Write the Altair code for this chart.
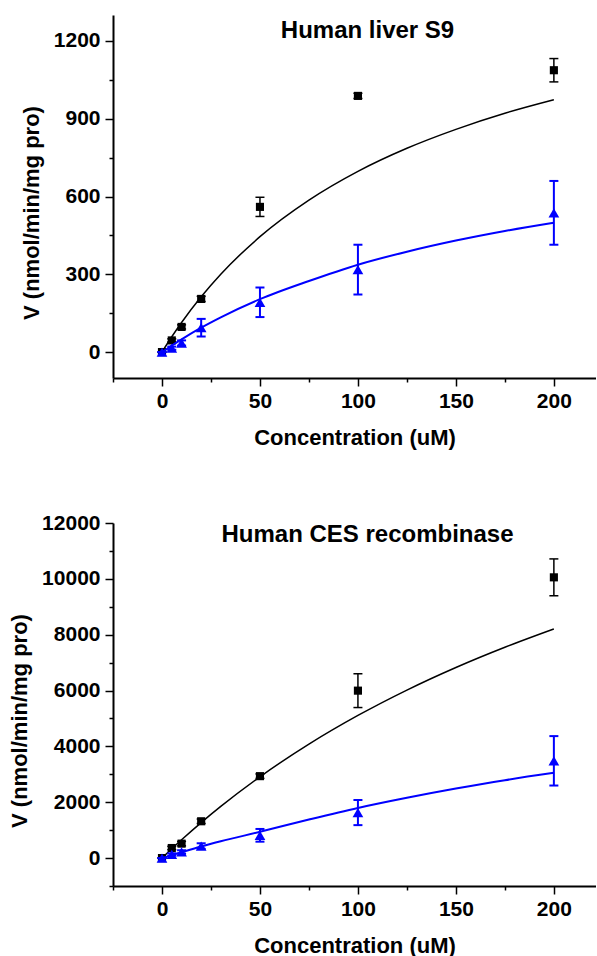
import altair as alt
import pandas as pd

# ---- data ----
conc = [0, 5, 10, 20, 50, 100, 200]

s9_black_v = [0, 45, 97, 205, 560, 988, 1087]
s9_black_err = [0, 6, 8, 10, 37, 10, 45]
s9_blue_v = [0, 15, 35, 94, 192, 318, 537]
s9_blue_err = [0, 6, 10, 34, 57, 96, 123]

ces_black_v = [0, 360, 517, 1318, 2934, 5996, 10054]
ces_black_err = [0, 60, 80, 80, 80, 605, 660]
ces_blue_v = [0, 130, 220, 430, 815, 1630, 3483]
ces_blue_err = [0, 40, 60, 100, 228, 450, 885]

fit_x = [0, 5, 10, 20, 30, 50, 75, 100, 125, 150, 175, 200]
s9_black_fit = [0, 59, 114, 213, 300, 445, 586, 697, 786, 859, 921, 973]
s9_blue_fit = [0, 25, 49, 94, 134, 204, 274, 337, 387, 430, 467, 499]
ces_black_fit = [0, 333, 655, 1271, 1850, 2911, 4081, 5108, 6017, 6826, 7551, 8206]
ces_blue_fit = [0, 105, 210, 415, 600, 940, 1380, 1796, 2160, 2490, 2790, 3052]

x_major = [0, 50, 100, 150, 200]
x_minor = [-25, 25, 75, 125, 175]
s9_y_major = [0, 300, 600, 900, 1200]
s9_y_minor = [150, 450, 750, 1050]
ces_y_major = [0, 2000, 4000, 6000, 8000, 10000, 12000]
ces_y_minor = [-1000, 1000, 3000, 5000, 7000, 9000, 11000]

FONT = "Liberation Sans"
BLACK = "#000000"
BLUE = "#0000ff"
W, H = 483, 363


def panel(title, bv, be, uv, ue, bfit, ufit, ydom, ymaj, ymin, step, title_base):
    pts = pd.DataFrame({
        "x": conc * 2,
        "v": bv + uv,
        "lo": [a - b for a, b in zip(bv, be)] + [a - b for a, b in zip(uv, ue)],
        "hi": [a + b for a, b in zip(bv, be)] + [a + b for a, b in zip(uv, ue)],
        "s": ["black"] * len(conc) + ["blue"] * len(conc),
    })
    fit = pd.DataFrame({
        "x": fit_x * 2,
        "v": bfit + ufit,
        "s": ["black"] * len(fit_x) + ["blue"] * len(fit_x),
    })
    xaxis = alt.Axis(
        title="Concentration (uM)", values=sorted(x_major + x_minor),
        labelExpr="datum.value % 50 === 0 ? datum.label : ''",
        tickSize={"condition": {"test": "datum.value % 50 === 0", "value": 8}, "value": 4},
        grid=False, labelOverlap=False, labelFlush=False,
        labelPadding=4, titlePadding=16,
    )
    yaxis = alt.Axis(
        title="V (nmol/min/mg pro)", values=sorted(ymaj + ymin), format="d",
        labelExpr=f"datum.value % {step} === 0 ? datum.label : ''",
        tickSize={"condition": {"test": f"datum.value % {step} === 0", "value": 8}, "value": 4},
        grid=False, labelOverlap=False, labelFlush=False,
        labelPadding=5, titlePadding=10, titleY=H / 2 + 16,
    )
    xs = alt.Scale(domain=[-25, 221.5], nice=False, zero=False)
    ys = alt.Scale(domain=ydom, nice=False, zero=False)

    layers = []
    for s, col, sw, shape, size in [("black", BLACK, 1.5, "square", 66),
                                    ("blue", BLUE, 2, "triangle-up", 115)]:
        f = fit[fit.s == s]
        p = pts[pts.s == s]
        line = alt.Chart(f).mark_line(color=col, strokeWidth=sw,
                                      interpolate="monotone").encode(
            x=alt.X("x:Q", scale=xs, axis=xaxis),
            y=alt.Y("v:Q", scale=ys, axis=yaxis),
        )
        bars = alt.Chart(p).mark_rule(color=col, strokeWidth=sw).encode(
            x=alt.X("x:Q", scale=xs, axis=xaxis),
            y=alt.Y("lo:Q", scale=ys, axis=yaxis),
            y2="hi:Q",
        )
        cap_lo = alt.Chart(p).mark_tick(color=col, orient="horizontal", size=9,
                                        thickness=sw, opacity=1).encode(
            x=alt.X("x:Q", scale=xs, axis=xaxis),
            y=alt.Y("lo:Q", scale=ys, axis=yaxis),
        )
        cap_hi = alt.Chart(p).mark_tick(color=col, orient="horizontal", size=9,
                                        thickness=sw, opacity=1).encode(
            x=alt.X("x:Q", scale=xs, axis=xaxis),
            y=alt.Y("hi:Q", scale=ys, axis=yaxis),
        )
        marks = alt.Chart(p).mark_point(shape=shape, filled=True, size=size,
                                        color=col, opacity=1).encode(
            x=alt.X("x:Q", scale=xs, axis=xaxis),
            y=alt.Y("v:Q", scale=ys, axis=yaxis),
        )
        layers += [line, bars, cap_lo, cap_hi, marks]

    head = alt.Chart(pd.DataFrame({"t": [title]})).mark_text(
        font=FONT, fontSize=24, fontWeight="bold", color=BLACK,
        align="center", baseline="alphabetic",
    ).encode(text="t:N", x=alt.value(W / 2 + 13), y=alt.value(title_base))
    layers.append(head)

    return alt.layer(*layers).properties(width=W, height=H)


top = panel("Human liver S9", s9_black_v, s9_black_err, s9_blue_v, s9_blue_err,
            s9_black_fit, s9_blue_fit, [-100, 1300], s9_y_major, s9_y_minor, 300, 23)
bottom = panel("Human CES recombinase", ces_black_v, ces_black_err, ces_blue_v,
               ces_blue_err, ces_black_fit, ces_blue_fit, [-1000, 12000],
               ces_y_major, ces_y_minor, 2000, 19)

chart = alt.vconcat(top, bottom, spacing=64).properties(
    padding={"left": 8, "top": 15, "right": 0, "bottom": 0},
    background="white",
).configure_view(stroke=None).configure_axis(
    labelFont=FONT, labelFontSize=21, labelFontWeight="bold", labelColor=BLACK,
    titleFont=FONT, titleFontSize=22, titleFontWeight="bold", titleColor=BLACK,
    domainColor=BLACK, domainWidth=2, tickColor=BLACK, tickWidth=1.5,
)

chart.save("out.html", embed_options={"renderer": "svg", "actions": False})
